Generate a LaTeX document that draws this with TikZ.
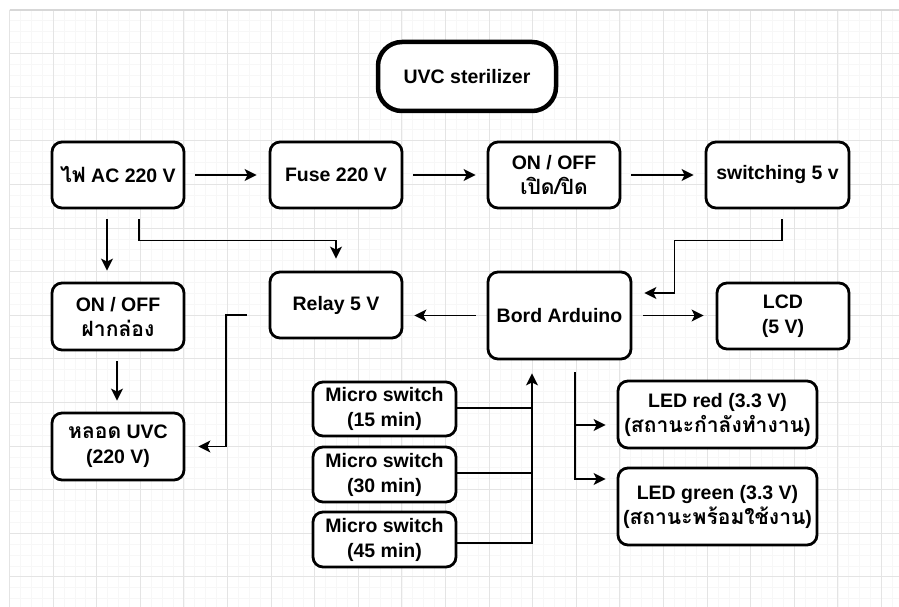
\documentclass[tikz,border=0pt]{standalone}
\usepackage{fontspec}
\setmainfont{Liberation Sans}
\newfontfamily\thai[Script=Thai,Scale=1.08]{Loma}
\usetikzlibrary{arrows.meta}
\definecolor{gridmajor}{RGB}{228,228,228}
\definecolor{gridminor}{RGB}{247,247,247}
\definecolor{gridedge}{RGB}{215,215,215}
\tikzset{
  box/.style={draw=black, line width=2.8pt, rounded corners=10pt, fill=white, align=center,
    font=\bfseries\fontsize{19.5}{25}\selectfont, inner sep=2pt},
  titlebox/.style={box, line width=4.5pt, rounded corners=24pt},
  arr/.style={draw=black, line width=1.8pt, -{Stealth[length=12pt,width=12pt,inset=3pt]}},
  wire/.style={draw=black, line width=1.8pt},
}
\begin{document}
\begin{tikzpicture}[x=1pt,y=-1pt]
\useasboundingbox (0,0) rectangle (899,607);
\fill[white] (0,0) rectangle (899,607);
% grid
\foreach \i in {0,...,81} {
  \draw[gridminor, line width=0.8pt] ({9.5+\i*10.9},10) -- ({9.5+\i*10.9},607);
}
\foreach \i in {0,...,54} {
  \draw[gridminor, line width=0.8pt] (9.5,{10+\i*10.9}) -- (899,{10+\i*10.9});
}
\foreach \i in {0,...,20} {
  \draw[gridmajor, line width=1pt] ({9.5+\i*43.6},10) -- ({9.5+\i*43.6},607);
}
\foreach \i in {0,...,13} {
  \draw[gridmajor, line width=1pt] (9.5,{10+\i*43.6}) -- (899,{10+\i*43.6});
}
\draw[gridedge, line width=1.2pt] (9.5,10) -- (899,10);

% nodes
\node[titlebox, minimum width=178pt, minimum height=69pt] (title) at (467,76.5) {UVC sterilizer};
\node[box, minimum width=132pt, minimum height=66pt] (ac) at (118,175) {{\thai ไฟ} AC 220 V};
\node[box, minimum width=132pt, minimum height=66pt] (fuse) at (336,175) {Fuse 220 V};
\node[box, minimum width=132pt, minimum height=66pt] (onoffa) at (554,175) {ON / OFF\\{\thai เปิด/ปิด}};
\node[box, minimum width=143pt, minimum height=66pt] (sw) at (777.5,175) {switching 5 v};
\node[box, minimum width=132pt, minimum height=67pt] (onoffb) at (118,316.5) {ON / OFF\\{\thai ฝากล่อง}};
\node[box, minimum width=132pt, minimum height=66pt] (relay) at (336,305) {Relay 5 V};
\node[box, minimum width=143pt, minimum height=87pt] (ard) at (559.5,315.5) {Bord Arduino};
\node[box, minimum width=132pt, minimum height=66pt] (lcd) at (783,316) {LCD\\(5 V)};
\node[box, minimum width=132pt, minimum height=67pt] (uvc) at (118,446.5) {{\thai หลอด} UVC\\(220 V)};
\node[box, minimum width=143pt, minimum height=54pt] (msa) at (384.5,409) {Micro switch\\(15 min)};
\node[box, minimum width=143pt, minimum height=55pt] (msb) at (384.5,474.5) {Micro switch\\(30 min)};
\node[box, minimum width=143pt, minimum height=55pt] (msc) at (384.5,539.5) {Micro switch\\(45 min)};
\node[box, minimum width=199pt, minimum height=67pt] (ledr) at (717.5,414.5) {LED red (3.3 V)\\({\thai สถานะกำลังทำงาน})};
\node[box, minimum width=199pt, minimum height=77pt] (ledg) at (717.5,506.5) {LED green (3.3 V)\\({\thai สถานะพร้อมใช้งาน})};

% connectors
\draw[arr, shorten <=10pt, shorten >=12pt] (ac.east) -- (fuse.west);
\draw[arr, shorten <=10pt, shorten >=11pt] (fuse.east) -- (onoffa.west);
\draw[arr, shorten <=10pt, shorten >=11pt] (onoffa.east) -- (sw.west);
\draw[arr, shorten <=10pt, shorten >=11pt] ([xshift=-11pt]ac.south) -- ([xshift=-11pt]ac.south |- onoffb.north);
\draw[arr, shorten <=10pt, shorten >=12pt] ([xshift=21pt]ac.south) -- ++(0,31) -| (relay.north);
\draw[arr, shorten <=10pt, shorten >=11pt] ([xshift=-1pt]onoffb.south) -- ([xshift=-1pt]onoffb.south |- uvc.north);
\draw[arr, shorten <=22pt, shorten >=13pt] ([yshift=-10pt]relay.west) -- ++(-43,0) |- (uvc.east);
\draw[arr, shorten <=11pt, shorten >=11pt] (ard.west) -- (ard.west -| relay.east);
\draw[arr, shorten <=10pt, shorten >=12pt] ([xshift=4.5pt]sw.south) -- ++(0,31) -| ([xshift=42pt,yshift=22.5pt]ard.east) -- ([yshift=22.5pt]ard.east);
\draw[arr, shorten <=11pt, shorten >=12pt] (ard.east) -- (ard.east -| lcd.west);
\draw[arr, shorten <=12pt, shorten >=11pt] ([xshift=15.5pt]ard.south) |- ([yshift=-10.5pt]ledr.west);
\draw[arr, shorten <=12pt, shorten >=11pt] ([xshift=15.5pt]ard.south) |- ([yshift=27.5pt]ledg.west);
\coordinate (bus) at ([xshift=-27.5pt]ard.south);
\draw[wire] ([yshift=1pt]msa.east) -- ([yshift=1pt]msa.east -| bus);
\draw[wire] ([yshift=1.5pt]msb.east) -- ([yshift=1.5pt]msb.east -| bus);
\draw[arr, shorten >=13pt] ([yshift=-3.5pt]msc.east) -| (bus);
\end{tikzpicture}
\end{document}
